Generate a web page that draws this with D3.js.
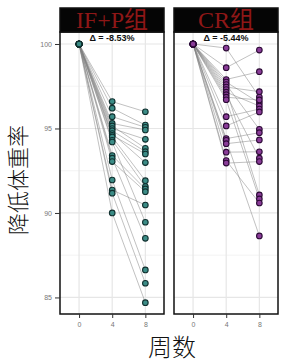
<!DOCTYPE html>
<html>
<head>
<meta charset="utf-8">
<script src="https://cdn.jsdelivr.net/npm/d3@7"></script>
<style>
  body { margin: 0; background: #fff; }
  svg { display: block; }
</style>
</head>
<body>
<svg></svg>
<script>
const width = 286;
const height = 364;

// DATA
const weeks = [0, 4, 8];
const groups = ['IF+P组', 'CR组'];
const deltaLabels = ['Δ = -8.53%', 'Δ = -5.44%'];
const yTicks = [85, 90, 95, 100];
const yMinorTicks = [87.5, 92.5, 97.5];

const ifpWeek4 = [96.59, 96.2, 95.7, 95.3, 95.15, 95.0, 94.87, 94.7, 94.6, 94.5,
                  94.3, 94.2, 93.4, 93.24, 93.04, 91.95, 91.36, 91.17, 90.0];
const ifpWeek8 = [95.99, 95.2, 95.07, 94.91, 93.83, 94.36, 93.63, 92.98, 93.49, 91.91,
                  91.56, 89.45, 91.42, 88.5, 91.26, 86.63, 90.47, 85.84, 84.69];
const crWeek4 = [99.76, 98.6, 97.9, 97.75, 97.6, 97.45, 97.3, 97.15, 97.0, 96.85,
                 96.7, 95.7, 95.15, 94.4, 94.3, 94.1, 93.6, 93.1, 92.95];
const crWeek8 = [96.86, 99.64, 98.36, 96.51, 94.95, 97.18, 91.07, 96.33, 93.24, 96.69,
                 90.83, 96.15, 95.98, 94.75, 88.64, 94.32, 93.62, 90.59, 93.04];

const dotFill = ['#3b8c86', '#8a3c98'];
const dotStroke = ['#10302f', '#2c0a36'];

// build subject rows: week 0 is baseline 100
const toSubjects = (w4, w8) => w4.map((v, i) => [100, v, w8[i]]);
const panels = [toSubjects(ifpWeek4, ifpWeek8), toSubjects(crWeek4, crWeek8)];

// LAYOUT
const panelW = 104;
const panelLeft = [60, 174];
const stripTop = 8;
const stripH = 24;
const panelTop = stripTop + stripH;
const panelBottom = 314;

// SCALES
const xScale = d3.scaleLinear().domain([-2.3, 10.25]).range([0, panelW]);
const yScale = d3.scaleLinear().domain([84.02, 100.71]).range([panelBottom, panelTop]);

const svg = d3.select('svg')
    .attr('width', width)
    .attr('height', height);

const line = d3.line()
    .x((d, i) => xScale(weeks[i]))
    .y(d => yScale(d));

panels.forEach((subjects, p) => {
  const g = svg.append('g').attr('transform', `translate(${panelLeft[p]},0)`);

  // GRIDS
  g.selectAll('.ymin').data(yMinorTicks).enter().append('line')
      .attr('x1', 0).attr('x2', panelW)
      .attr('y1', d => yScale(d)).attr('y2', d => yScale(d))
      .attr('stroke', '#f0f0f0').attr('stroke-width', 0.8);
  g.selectAll('.ymaj').data(yTicks).enter().append('line')
      .attr('x1', 0).attr('x2', panelW)
      .attr('y1', d => yScale(d)).attr('y2', d => yScale(d))
      .attr('stroke', '#e6e6e6').attr('stroke-width', 1.2);
  g.selectAll('.xmaj').data(weeks).enter().append('line')
      .attr('x1', d => xScale(d)).attr('x2', d => xScale(d))
      .attr('y1', panelTop).attr('y2', panelBottom)
      .attr('stroke', '#e6e6e6').attr('stroke-width', 1.2);

  // LINES
  g.selectAll('.subj').data(subjects).enter().append('path')
      .attr('d', line)
      .attr('fill', 'none')
      .attr('stroke', '#808080')
      .attr('stroke-opacity', 0.55)
      .attr('stroke-width', 0.9);

  // POINTS
  const pts = subjects.flatMap(s => s.map((v, i) => ({ w: weeks[i], v })));
  g.selectAll('circle').data(pts).enter().append('circle')
      .attr('cx', d => xScale(d.w))
      .attr('cy', d => yScale(d.v))
      .attr('r', 2.8)
      .attr('fill', dotFill[p])
      .attr('stroke', dotStroke[p])
      .attr('stroke-width', 1.1);

  // PANEL BORDER
  g.append('rect')
      .attr('x', 0).attr('y', panelTop)
      .attr('width', panelW).attr('height', panelBottom - panelTop)
      .attr('fill', 'none').attr('stroke', '#111').attr('stroke-width', 1.5);

  // STRIP
  g.append('rect')
      .attr('x', 0).attr('y', stripTop)
      .attr('width', panelW).attr('height', stripH)
      .attr('fill', '#050505').attr('stroke', '#111').attr('stroke-width', 1.5);
  g.append('text')
      .attr('x', panelW / 2).attr('y', stripTop + stripH - 4)
      .attr('text-anchor', 'middle')
      .style('font-family', '"Liberation Serif", "Noto Sans CJK SC", serif')
      .style('font-size', '24px')
      .attr('fill', '#8e1717')
      .text(groups[p]);

  // DELTA LABEL
  g.append('text')
      .attr('x', panelW / 2).attr('y', panelTop + 9)
      .attr('text-anchor', 'middle')
      .style('font-family', '"Liberation Sans", Arial, sans-serif')
      .style('font-size', '9px')
      .style('font-weight', 'bold')
      .attr('fill', '#111')
      .text(deltaLabels[p]);

  // X AXIS
  const xAxis = d3.axisBottom(xScale).tickValues(weeks).tickSize(4).tickPadding(4).tickSizeOuter(0);
  const xg = g.append('g').attr('transform', `translate(0,${panelBottom})`).call(xAxis);
  xg.select('.domain').remove();
  xg.selectAll('line').attr('stroke', '#333');
  xg.selectAll('text')
      .style('font-family', '"Liberation Sans", Arial, sans-serif')
      .style('font-size', '7px')
      .attr('fill', '#777');
});

// Y AXIS
const yAxis = d3.axisLeft(yScale).tickValues(yTicks).tickSize(5).tickPadding(3).tickSizeOuter(0);
const yg = svg.append('g').attr('transform', `translate(${panelLeft[0]},0)`).call(yAxis);
yg.select('.domain').remove();
yg.selectAll('line').attr('stroke', '#333');
yg.selectAll('text')
    .style('font-family', '"Liberation Sans", Arial, sans-serif')
    .style('font-size', '7px')
    .attr('fill', '#777');

// AXIS TITLES
svg.append('text')
    .attr('transform', 'rotate(-90)')
    .attr('x', -180)
    .attr('y', 26)
    .attr('text-anchor', 'middle')
    .style('font-family', '"Noto Sans CJK SC", serif')
    .style('font-size', '22px')
    .style('font-weight', 300)
    .attr('fill', '#111')
    .text('降低体重率');

svg.append('text')
    .attr('x', 172)
    .attr('y', 356)
    .attr('text-anchor', 'middle')
    .style('font-family', '"Noto Sans CJK SC", serif')
    .style('font-size', '24px')
    .style('font-weight', 300)
    .attr('fill', '#111')
    .text('周数');
</script>
</body>
</html>
